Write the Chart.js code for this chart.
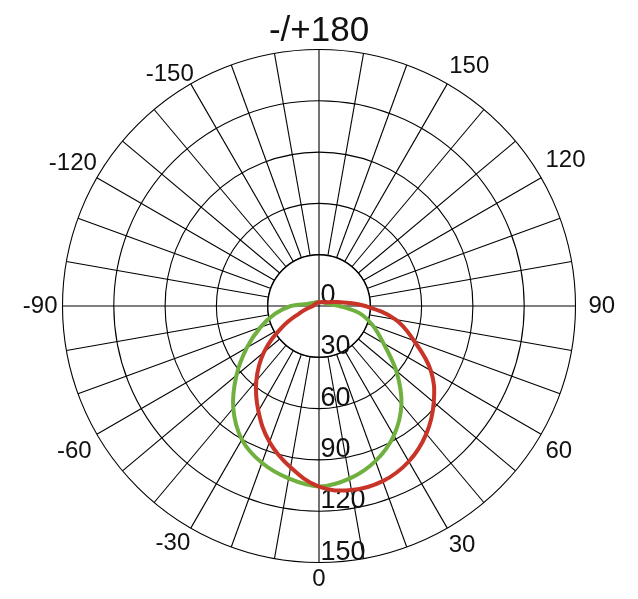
<!DOCTYPE html>
<html lang="en">
<head>
    <meta charset="UTF-8">
    <title>Polar intensity diagram</title>
    <script src="https://cdn.jsdelivr.net/npm/chart.js"></script>
    <style>
        body { margin: 0; background: #ffffff; }
        #wrap { width: 638px; height: 599px; }
    </style>
</head>
<body>
    <div id="wrap">
        <canvas id="polarChart" width="638" height="599"></canvas>
    </div>
    <script>
        // angles in degrees, clockwise from the top of the diagram
        const angles = [180, 170, 160, 150, 140, 130, 120, 110, 100, 90, 80, 70, 60, 50, 40, 30, 20, 10,
                        0, -10, -20, -30, -40, -50, -60, -70, -80, -90, -100, -110, -120, -130, -140, -150, -160, -170];

        // intensity, red curve (same order as angles)
        const redValues = [2.2, 2.2, 2.3, 2.5, 3, 3.5, 4.4, 6.5, 13, 27, 45.5, 59, 75.5, 87.6, 97.6, 105, 109, 109.3,
                           105.6, 95.8, 84.6, 70.9, 57, 42, 25, 12, 6, 3.5, 3, 2.6, 2.4, 2.3, 2.2, 2.2, 2.2, 2.2];

        // intensity, green curve
        const greenValues = [2.3, 2.3, 2.4, 2.6, 2.9, 3.3, 3.8, 4.4, 6.3, 12, 24, 33.5, 43.5, 59, 75, 87.5, 96.5, 102.5,
                             105.5, 102.4, 97.6, 90.2, 78, 63, 48.7, 36.5, 26, 16.5, 7, 4.8, 3.7, 3.2, 2.9, 2.6, 2.4, 2.3];

        // radial tick labels
        const radialTicks = [0, 30, 60, 90, 120, 150];
        const holeValue = 30;

        const gridColor = '#000000';
        const fontFamily = '"Liberation Sans", Arial, sans-serif';

        // gap between the outer ring and each angle label
        const labelGap = { 180: 0.5, 150: 4, 120: 5, 90: 13, 60: 5, 30: 3, 0: 2,
                           '-30': 1, '-60': 6, '-90': 5, '-120': 0, '-150': -6 };

        function angleLabel(a) {
            if (a === 180) return '-/+180';
            if (a % 30 === 0) return String(a);
            return '';
        }

        // white hole in the middle, the cross through it and the radial labels
        const holePlugin = {
            id: 'hole',
            beforeDatasetsDraw(chart) {
                const s = chart.scales.r;
                const ctx = chart.ctx;
                const cx = s.xCenter, cy = s.yCenter;
                const rh = s.getDistanceFromCenterForValue(holeValue);
                ctx.save();
                ctx.fillStyle = '#ffffff';
                ctx.beginPath();
                ctx.arc(cx, cy, rh, 0, Math.PI * 2);
                ctx.fill();
                ctx.strokeStyle = gridColor;
                ctx.lineWidth = 1.4;
                ctx.stroke();
                ctx.lineWidth = 1.1;
                ctx.beginPath();
                ctx.moveTo(cx - rh, cy); ctx.lineTo(cx + rh, cy);
                ctx.moveTo(cx, cy - rh); ctx.lineTo(cx, cy + rh);
                ctx.stroke();

                ctx.fillStyle = '#111111';
                ctx.font = '27px ' + fontFamily;
                ctx.textAlign = 'left';
                ctx.textBaseline = 'alphabetic';
                radialTicks.forEach(v => {
                    const d = s.getDistanceFromCenterForValue(v);
                    ctx.fillText(String(v), cx + 1.5, cy + d - 3);
                });
                ctx.restore();
            }
        };

        new Chart(document.getElementById('polarChart'), {
            type: 'radar',
            data: {
                labels: angles,
                datasets: [
                    {
                        label: 'red',
                        data: redValues,
                        borderColor: 'rgb(200, 52, 40)',
                        borderWidth: 4,
                        fill: false,
                        pointRadius: 0,
                        tension: 0.4
                    },
                    {
                        label: 'green',
                        data: greenValues,
                        borderColor: 'rgb(112, 176, 62)',
                        borderWidth: 4,
                        fill: false,
                        pointRadius: 0,
                        tension: 0.3
                    }
                ]
            },
            options: {
                responsive: false,
                animation: false,
                layout: { padding: { top: 12, bottom: 2, left: 2, right: 0 } },
                plugins: {
                    legend: { display: false },
                    tooltip: { enabled: false }
                },
                scales: {
                    r: {
                        min: 0,
                        max: 150,
                        ticks: { stepSize: 30, display: false },
                        grid: { circular: true, color: gridColor, lineWidth: 1.1 },
                        angleLines: { display: true, color: gridColor, lineWidth: 1.1 },
                        pointLabels: {
                            display: true,
                            color: '#111111',
                            callback: (label) => angleLabel(label),
                            padding: (ctx) => {
                                const g = labelGap[angles[ctx.index]];
                                return g === undefined ? 0 : g;
                            },
                            font: (ctx) => {
                                const a = angles[ctx.index];
                                if (a === 180) return { size: 35, family: fontFamily, lineHeight: 1.0 };
                                if (a % 30 === 0) return { size: 24, family: fontFamily };
                                return { size: 2, family: fontFamily };
                            }
                        }
                    }
                }
            },
            plugins: [holePlugin]
        });
    </script>
</body>
</html>
